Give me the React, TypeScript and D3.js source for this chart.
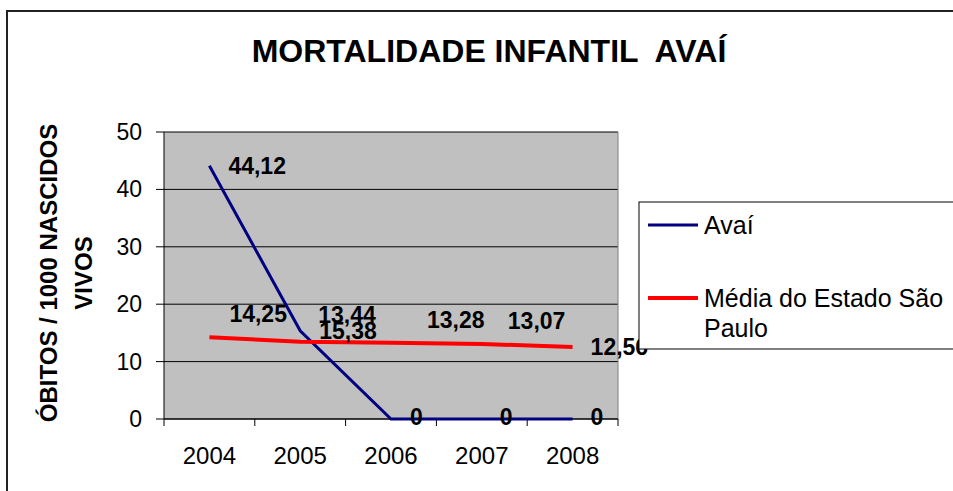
import * as d3 from "d3";

const years = ["2004", "2005", "2006", "2007", "2008"];
const avai = [44.12, 15.38, 0, 0, 0];
const mediaSP = [14.25, 13.44, 13.28, 13.07, 12.56];
const yTicks = [0, 10, 20, 30, 40, 50];

// label offsets (px) from each point
const avaiLabelOffset = [
  [19, 0],
  [19, 0],
  [19, -2],
  [18, -2],
  [18, -2],
];
const mediaLabelOffset = [
  [20, -23],
  [18, -27],
  [36, -23],
  [26, -23],
  [18, 0],
];

const fmt = (v: number) => (v === 0 ? "0" : v.toFixed(2).replace(".", ","));

const FONT = "'Liberation Sans', Arial, sans-serif";

const App = () => {
  const width = 953;
  const height = 491;
  const plot = { left: 164, right: 618, top: 132, bottom: 419 };

  const x = d3
    .scaleBand<string>()
    .domain(years)
    .range([plot.left, plot.right])
    .paddingInner(0)
    .paddingOuter(0);
  const cx = (yr: string) => (x(yr) ?? 0) + x.bandwidth() / 2;

  const y = d3.scaleLinear().domain([0, 50]).range([plot.bottom, plot.top]);

  const line = d3
    .line<number>()
    .x((_, i) => cx(years[i]))
    .y((d) => y(d));

  const boundaries = [...years.map((yr) => x(yr) ?? 0), plot.right];

  return (
    <svg
      width={width}
      height={height}
      style={{ position: "absolute", left: 0, top: 0, background: "#fff" }}
      fontFamily={FONT}
    >
      {/* chart frame */}
      <rect x={7} y={11} width={1000} height={600} fill="#fff" stroke="#222" strokeWidth={2} />

      {/* title */}
      <text
        x={489}
        y={62}
        textAnchor="middle"
        fontSize={32}
        fontWeight="bold"
        fill="#000"
        style={{ whiteSpace: "pre" }}
      >
        {"MORTALIDADE INFANTIL  AVAÍ"}
      </text>

      {/* plot area */}
      <rect
        x={plot.left}
        y={plot.top}
        width={plot.right - plot.left}
        height={plot.bottom - plot.top}
        fill="#c0c0c0"
      />
      {yTicks.map((t) => (
        <line key={"g" + t} x1={plot.left} x2={plot.right} y1={y(t)} y2={y(t)} stroke="#000" strokeWidth={1} />
      ))}
      <line x1={plot.right} x2={plot.right} y1={plot.top} y2={plot.bottom} stroke="#808080" strokeWidth={1} />

      {/* y axis */}
      <line x1={plot.left} x2={plot.left} y1={plot.top} y2={plot.bottom} stroke="#000" strokeWidth={1} />
      {yTicks.map((t) => (
        <g key={"yt" + t}>
          <line x1={plot.left - 8} x2={plot.left} y1={y(t)} y2={y(t)} stroke="#000" />
          <text x={142} y={y(t)} dy="0.35em" textAnchor="end" fontSize={23} fill="#000">
            {t}
          </text>
        </g>
      ))}

      {/* x axis */}
      <line x1={plot.left} x2={plot.right} y1={plot.bottom} y2={plot.bottom} stroke="#000" strokeWidth={1} />
      {boundaries.map((b, i) => (
        <line key={"xt" + i} x1={b} x2={b} y1={plot.bottom} y2={plot.bottom + 7} stroke="#000" />
      ))}
      {years.map((yr) => (
        <text key={yr} x={cx(yr)} y={464} textAnchor="middle" fontSize={24} fill="#000">
          {yr}
        </text>
      ))}

      {/* y axis title */}
      <text
        transform="translate(57,273) rotate(-90)"
        textAnchor="middle"
        fontSize={24}
        fontWeight="bold"
        fill="#000"
      >
        ÓBITOS / 1000 NASCIDOS
      </text>
      <text
        transform="translate(92,273) rotate(-90)"
        textAnchor="middle"
        fontSize={24}
        fontWeight="bold"
        fill="#000"
      >
        VIVOS
      </text>

      {/* series */}
      <path d={line(avai) ?? ""} fill="none" stroke="#000080" strokeWidth={3} />
      <path d={line(mediaSP) ?? ""} fill="none" stroke="#ff0000" strokeWidth={4} />

      {/* data labels */}
      {avai.map((v, i) => (
        <text
          key={"la" + i}
          x={cx(years[i]) + avaiLabelOffset[i][0]}
          y={y(v) + avaiLabelOffset[i][1]}
          dy="0.35em"
          fontSize={23}
          fontWeight="bold"
          fill="#000"
        >
          {fmt(v)}
        </text>
      ))}
      {mediaSP.map((v, i) => (
        <text
          key={"lm" + i}
          x={cx(years[i]) + mediaLabelOffset[i][0]}
          y={y(v) + mediaLabelOffset[i][1]}
          dy="0.35em"
          fontSize={23}
          fontWeight="bold"
          fill="#000"
        >
          {fmt(v)}
        </text>
      ))}

      {/* legend */}
      <rect x={639} y={202} width={400} height={147} fill="#fff" stroke="#000" strokeWidth={1} />
      <line x1={648} x2={698} y1={225} y2={225} stroke="#000080" strokeWidth={3} />
      <text x={704} y={225} dy="0.35em" fontSize={25} fill="#000">
        Avaí
      </text>
      <line x1={648} x2={698} y1={298} y2={298} stroke="#ff0000" strokeWidth={4} />
      <text x={704} y={298} dy="0.35em" fontSize={25} fill="#000">
        Média do Estado São
      </text>
      <text x={704} y={328} dy="0.35em" fontSize={25} fill="#000">
        Paulo
      </text>
    </svg>
  );
};

export default App;
